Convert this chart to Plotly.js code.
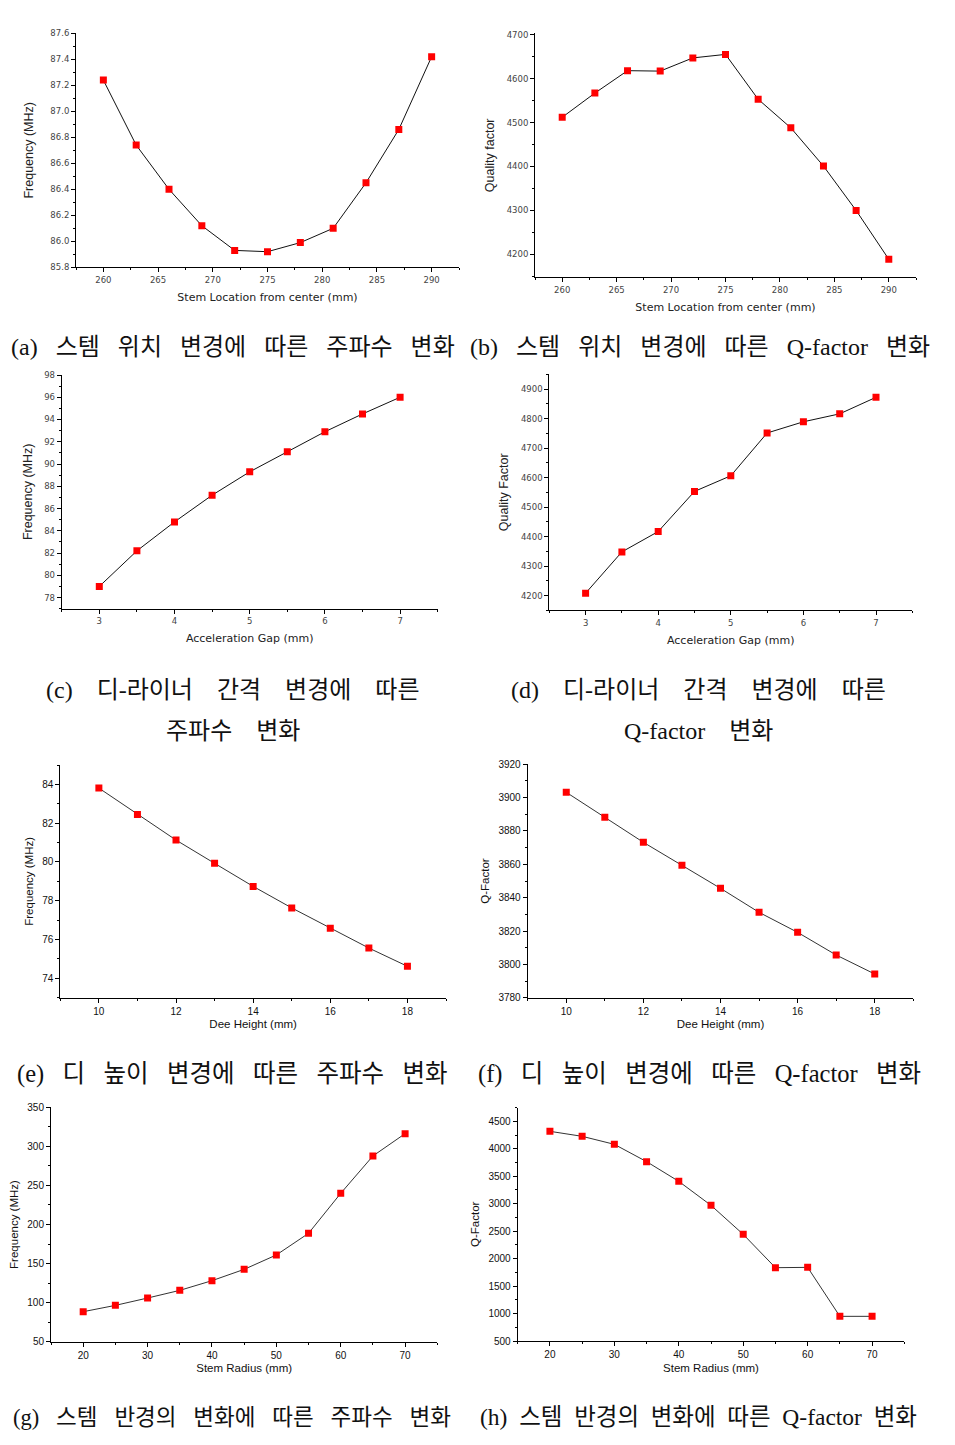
<!DOCTYPE html>
<html>
<head>
<meta charset="utf-8">
<script src="https://cdn.plot.ly/plotly-3.0.1.min.js"></script>
<style>html,body{margin:0;padding:0;background:#fff;}#chart{width:955px;height:1445px;}</style>
</head>
<body>
<div id="chart"></div>
<script>
// ---- data ----
var stemLocX = [260, 263, 266, 269, 272, 275, 278, 281, 284, 287, 290];
var stemLocFreq = [87.24, 86.74, 86.40, 86.12, 85.93, 85.92, 85.99, 86.10, 86.45, 86.86, 87.42];
var stemLocQ = [4512, 4567, 4618, 4617, 4647, 4655, 4553, 4488, 4401, 4300, 4189];

var gapX = [3, 3.5, 4, 4.5, 5, 5.5, 6, 6.5, 7];
var gapFreq = [79.0, 82.2, 84.8, 87.2, 89.3, 91.1, 92.9, 94.5, 96.0];
var gapQ = [4208, 4348, 4417, 4553, 4606, 4751, 4789, 4816, 4872];

var deeX = [10, 11, 12, 13, 14, 15, 16, 17, 18];
var deeFreq = [83.81, 82.45, 81.13, 79.93, 78.74, 77.63, 76.58, 75.56, 74.62];
var deeQ = [3903.2, 3888.2, 3873.2, 3859.4, 3845.6, 3831.2, 3819.2, 3805.6, 3794.2];

var radX = [20, 25, 30, 35, 40, 45, 50, 55, 60, 65, 70];
var radFreq = [88.4, 96.5, 105.9, 115.7, 128.1, 142.6, 161, 188.7, 239.9, 287.7, 316.3];
var radQ = [4318, 4227, 4081, 3766, 3407, 2970, 2442, 1835, 1841, 949, 949];

var captions = [
  ["(a) 스템 위치 변경에 따른 주파수 변화"],
  ["(b) 스템 위치 변경에 따른 Q-factor 변화"],
  ["(c) 디-라이너 간격 변경에 따른", "주파수 변화"],
  ["(d) 디-라이너 간격 변경에 따른", "Q-factor 변화"],
  ["(e) 디 높이 변경에 따른 주파수 변화"],
  ["(f) 디 높이 변경에 따른 Q-factor 변화"],
  ["(g) 스템 반경의 변화에 따른 주파수 변화"],
  ["(h) 스템 반경의 변화에 따른 Q-factor 변화"]
];

var xTitles = ["Stem Location from center (mm)", "Stem Location from center (mm)",
  "Acceleration Gap (mm)", "Acceleration Gap (mm)",
  "Dee Height (mm)", "Dee Height (mm)", "Stem Radius (mm)", "Stem Radius (mm)"];
var yTitles = ["Frequency (MHz)", "Quality factor", "Frequency (MHz)", "Quality Factor",
  "Frequency (MHz)", "Q-Factor", "Frequency (MHz)", "Q-Factor"];

// ---- layout geometry (pixels) ----
var W = 955, H = 1445;
var panels = [
  {x: stemLocX, y: stemLocFreq, box: [76, 459, 33.3, 267.3], xr: [257.5, 292.5], yr: [85.8, 87.6], xd: 5, xm: 2.5, yd: 0.2, ym: 0.1, yf: '.1f', old: true, ys: 13, cap: [232.5, 347], cs: 24, cg: 3},
  {x: stemLocX, y: stemLocQ, box: [535, 916, 33.3, 277.3], xr: [257.5, 292.5], yr: [4148, 4703], xd: 5, xm: 2.5, yd: 100, ym: 50, yf: '', old: true, ys: 9, cap: [699.5, 347], cs: 24, cg: 3},
  {x: gapX, y: gapFreq, box: [61.7, 437.7, 375, 608.7], xr: [2.5, 7.5], yr: [77, 98], xd: 1, xm: 0.5, yd: 2, ym: 1, yf: '', old: true, ys: 8, cap: [232.5, 690, 731], cs: 24, cg: 4},
  {x: gapX, y: gapQ, box: [549.3, 912.3, 374.3, 610.3], xr: [2.5, 7.5], yr: [4150, 4950], xd: 1, xm: 0.5, yd: 100, ym: 50, yf: '', old: true, ys: 9, cap: [698.5, 690, 731], cs: 24, cg: 4},
  {x: deeX, y: deeFreq, box: [60.3, 446, 765, 997.7], xr: [9, 19], yr: [73, 85], xd: 2, xm: 1, yd: 2, ym: 1, yf: '', old: false, ys: 6, cap: [231.5, 1074], cs: 24.5, cg: 3},
  {x: deeX, y: deeQ, box: [527.7, 913.3, 764.3, 997.7], xr: [9, 19], yr: [3780, 3920], xd: 2, xm: 1, yd: 20, ym: 10, yf: '', old: false, ys: 6, cap: [699.5, 1074], cs: 24.5, cg: 3},
  {x: radX, y: radFreq, box: [51, 437.3, 1107.3, 1341.7], xr: [15, 75], yr: [50, 350], xd: 10, xm: 5, yd: 50, ym: 25, yf: '', old: false, ys: 6, cap: [232, 1417], cs: 22.5, cg: 3},
  {x: radX, y: radQ, box: [517.7, 904.3, 1107.6, 1341], xr: [15, 75], yr: [500, 4750], xd: 10, xm: 5, yd: 500, ym: 250, yf: '', old: false, ys: 6, cap: [698, 1417], cs: 23.5, cg: 2}
];

var traces = [];
var layout = {
  width: W, height: H,
  margin: {l: 0, r: 0, t: 0, b: 0},
  paper_bgcolor: '#ffffff', plot_bgcolor: 'rgba(0,0,0,0)',
  showlegend: false,
  annotations: []
};

function spaced(s, n) {
  var g = '';
  for (var k = 0; k < n; k++) g += '\u00a0';
  return s.replace(/ /g, g);
}

panels.forEach(function (p, i) {
  var n = i + 1;
  var xa = 'xaxis' + (n === 1 ? '' : n), ya = 'yaxis' + (n === 1 ? '' : n);
  var xid = 'x' + (n === 1 ? '' : n), yid = 'y' + (n === 1 ? '' : n);
  traces.push({
    type: 'scatter', mode: 'lines+markers', x: p.x, y: p.y, xaxis: xid, yaxis: yid,
    line: {color: p.old ? '#111' : '#333', width: 1},
    marker: {symbol: 'square', size: 7, color: '#ff0000', line: {width: 0}},
    hoverinfo: 'x+y'
  });
  var tickFont = p.old ? {family: '"DejaVu Sans", sans-serif', size: 8.5, color: '#444'}
                       : {family: '"Liberation Sans", Arial, sans-serif', size: 10, color: '#111'};
  var xtFont = p.old ? {family: '"DejaVu Sans", sans-serif', size: 11, color: '#222'}
                     : {family: '"Liberation Sans", Arial, sans-serif', size: 11.5, color: '#111'};
  var ytFont = p.old ? {family: '"Liberation Sans", Arial, sans-serif', size: 12.5, color: '#222'}
                     : {family: '"Liberation Sans", Arial, sans-serif', size: 11.5, color: '#111'};
  layout[xa] = {
    domain: [p.box[0] / W, p.box[1] / W], anchor: yid,
    range: p.xr, autorange: false, dtick: p.xd, tick0: 0,
    showline: true, linecolor: '#000', linewidth: 1, mirror: false,
    showgrid: false, zeroline: false,
    ticks: 'outside', ticklen: 4, tickwidth: 1, tickcolor: '#000',
    minor: {ticks: 'outside', dtick: p.xm, tick0: 0, ticklen: 2, tickcolor: '#000', showgrid: false},
    tickfont: tickFont,
    title: {text: xTitles[i], font: xtFont, standoff: p.old ? 9 : 4},
    fixedrange: true
  };
  layout[ya] = {
    domain: [1 - p.box[3] / H, 1 - p.box[2] / H], anchor: xid,
    range: p.yr, autorange: false, dtick: p.yd, tick0: 0, tickformat: p.yf,
    showline: true, linecolor: '#000', linewidth: 1, mirror: false,
    showgrid: false, zeroline: false,
    ticks: 'outside', ticklen: 4, tickwidth: 1, tickcolor: '#000',
    minor: {ticks: 'outside', dtick: p.ym, tick0: 0, ticklen: 2, tickcolor: '#000', showgrid: false},
    tickfont: tickFont,
    title: {text: yTitles[i], font: ytFont, standoff: p.ys},
    fixedrange: true
  };
  var capFont = {family: '"Liberation Serif", "Noto Sans CJK KR", serif', size: p.cs, color: '#111'};
  var lines = captions[i];
  layout.annotations.push({
    xref: 'paper', yref: 'paper', x: p.cap[0] / W, y: 1 - p.cap[1] / H,
    xanchor: 'center', yanchor: 'middle', showarrow: false,
    text: spaced(lines[0], p.cg), font: capFont
  });
  if (lines.length > 1) {
    layout.annotations.push({
      xref: 'paper', yref: 'paper', x: p.cap[0] / W, y: 1 - p.cap[2] / H,
      xanchor: 'center', yanchor: 'middle', showarrow: false,
      text: spaced(lines[1], p.cg), font: capFont
    });
  }
});

Plotly.newPlot('chart', traces, layout, {displayModeBar: false, staticPlot: true});
</script>
</body>
</html>
